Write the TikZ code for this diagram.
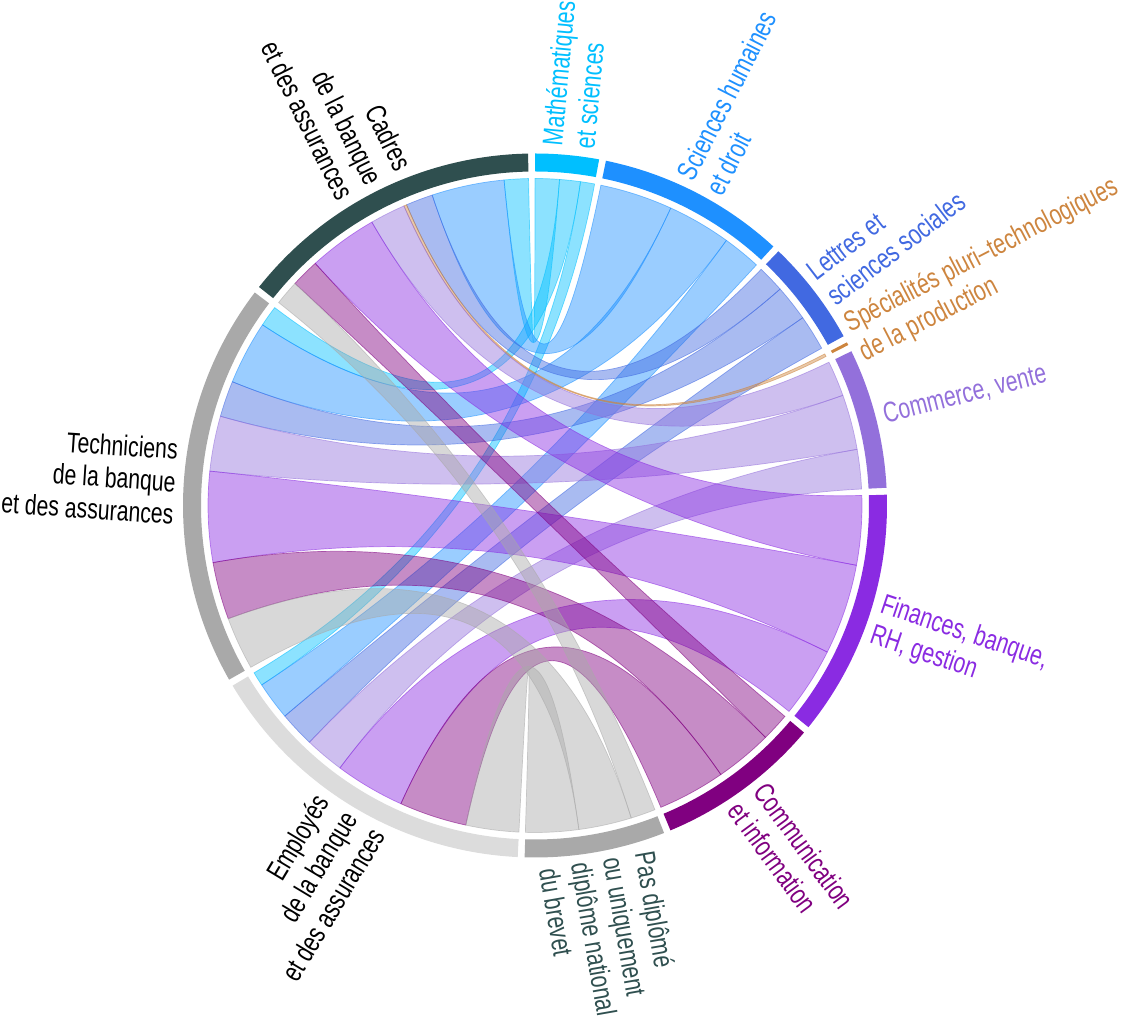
\documentclass[tikz,border=0pt]{standalone}
\usepackage{fontspec}
\setmainfont{Liberation Sans}
\definecolor{mathc}{HTML}{00BFFF}
\definecolor{scic}{HTML}{1E90FF}
\definecolor{lettc}{HTML}{4169E1}
\definecolor{specc}{HTML}{CD853F}
\definecolor{commc}{HTML}{9370DB}
\definecolor{finc}{HTML}{8A2BE2}
\definecolor{comc}{HTML}{800080}
\definecolor{pasc}{HTML}{A9A9A9}
\definecolor{empc}{HTML}{DCDCDC}
\definecolor{techc}{HTML}{A9A9A9}
\definecolor{cadc}{HTML}{2F4F4F}
\newcommand\rr{327}
\newcommand\rc{109}
\newcommand\ri{334}
\newcommand\ro{352}
\newcommand\rl{360}
\newcommand\grouparc[3]{\fill[#3] (90-#1:\ri) arc[start angle={90-#1}, end angle={90-#2}, radius=\ri] -- (90-#2:\ro) arc[start angle={90-#2}, end angle={90-#1}, radius=\ro] -- cycle;}
\newcommand\ribbon[5]{\path[chordband=#5] (90-#1:\rr) arc[start angle={90-#1}, end angle={90-#2}, radius=\rr] .. controls (90-#2:\rc) and (90-#3:\rc) .. (90-#3:\rr) arc[start angle={90-#3}, end angle={90-#4}, radius=\rr] .. controls (90-#4:\rc) and (90-#1:\rc) .. cycle;}
\tikzset{
  chordband/.style={fill=#1, fill opacity=0.45, draw=#1, draw opacity=0.55, line width=0.7pt},
  lab/.style={font=\fontsize{28.5}{32.5}\selectfont, inner sep=0pt},
  rlab/.style={rotate=#1, xscale=0.745, lab, anchor=west, align=left},
  llab/.style={rotate=#1, xscale=0.745, lab, anchor=east, align=right}
}
\begin{document}
\begin{tikzpicture}[x=1pt,y=1pt]
\useasboundingbox (-535,-513.5) rectangle (599,505.5);
% chords: field subgroup (s0,s1), job subgroup (t0,t1), bearings in degrees
% Maths
\ribbon{0}{4.3}{354.57}{358.87}{mathc}
\ribbon{4.3}{8.0}{303.543}{307.243}{mathc}
\ribbon{8.0}{10.5}{236.716}{239.216}{mathc}
% Sciences humaines
\ribbon{11.627}{24.527}{341.67}{354.57}{scic}
\ribbon{24.527}{35.827}{292.243}{303.543}{scic}
\ribbon{35.827}{42.627}{229.916}{236.716}{scic}
% Lettres
\ribbon{43.754}{48.554}{336.87}{341.67}{lettc}
\ribbon{48.554}{54.954}{285.843}{292.243}{lettc}
\ribbon{54.954}{61.254}{223.616}{229.916}{lettc}
% Specialites
\ribbon{62.381}{62.881}{336.37}{336.87}{specc}
% Commerce
\ribbon{64.008}{70.308}{330.07}{336.37}{commc}
\ribbon{70.308}{80.108}{276.043}{285.843}{commc}
\ribbon{80.108}{87.108}{216.616}{223.616}{commc}
% Finances
\ribbon{88.235}{100.535}{317.77}{330.07}{finc}
\ribbon{100.535}{116.635}{259.943}{276.043}{finc}
\ribbon{116.635}{129.035}{204.216}{216.616}{finc}
% Communication
\ribbon{130.162}{135.162}{312.77}{317.77}{comc}
\ribbon{135.162}{145.362}{249.743}{259.943}{comc}
\ribbon{145.362}{157.362}{192.216}{204.216}{comc}
% Pas diplome
\ribbon{158.489}{162.889}{308.37}{312.77}{pasc}
\ribbon{162.889}{172.289}{240.343}{249.743}{pasc}
\ribbon{172.289}{181.689}{182.816}{192.216}{pasc}
% group arcs
\grouparc{0}{10.5}{mathc}
\grouparc{11.627}{42.627}{scic}
\grouparc{43.754}{61.254}{lettc}
\grouparc{62.381}{62.881}{specc}
\grouparc{64.008}{87.108}{commc}
\grouparc{88.235}{129.035}{finc}
\grouparc{130.162}{157.362}{comc}
\grouparc{158.489}{181.689}{pasc}
\grouparc{182.816}{239.216}{empc}
\grouparc{240.343}{307.243}{techc}
\grouparc{308.37}{358.87}{cadc}
% labels
\node[rlab=84.75, text=mathc] (lmath) at (84.75:\rl) {Mathématiques\\et sciences};
\node[rlab=62.873, text=scic] (lsci) at (62.873:\rl) {Sciences humaines\\et droit};
\node[rlab=37.496, text=lettc] (llett) at (37.496:\rl) {Lettres et\\sciences sociales};
\node[rlab=27.369, text=specc] (lspec) at (27.369:\rl) {Spécialités pluri–technologiques\\de la production};
\node[rlab=14.442, text=commc] (lcomm) at (14.442:\rl) {Commerce, vente};
\node[rlab=-18.635, text=finc] (lfin) at (-18.635:\rl) {Finances, banque,\\RH, gestion};
\node[rlab=-53.762, text=comc] (lcom) at (-53.762:\rl) {Communication\\et information};
\node[rlab=-80.089, text=cadc] (lpas) at (-80.089:\rl) {Pas diplômé\\ou uniquement\\diplôme national\\du brevet};
\node[llab=58.984, text=black] (lemp) at (-121.016:\rl) {Employés\\de la banque\\et des assurances};
\node[llab=-3.793, text=black] (ltech) at (-183.793:\rl) {Techniciens\\de la banque\\et des assurances};
\node[llab=-63.62, text=black] (lcad) at (-243.62:\rl) {Cadres\\de la banque\\et des assurances};
\end{tikzpicture}
\end{document}
